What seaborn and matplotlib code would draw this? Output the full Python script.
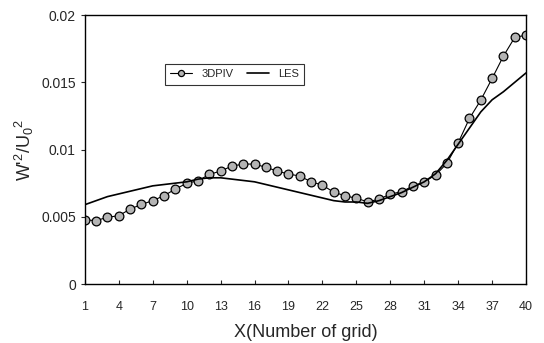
import matplotlib
matplotlib.use("Agg")
import matplotlib.pyplot as plt
import seaborn as sns
import pandas as pd
import numpy as np

grid = list(range(1, 41))

piv = [0.00476, 0.00472, 0.00496, 0.00508, 0.00557, 0.00592, 0.00620, 0.00657, 0.00706, 0.00749,
       0.00768, 0.00815, 0.00840, 0.00877, 0.00892, 0.00892, 0.00868, 0.00840, 0.00818, 0.00803,
       0.00760, 0.00736, 0.00682, 0.00657, 0.00637, 0.00612, 0.00630, 0.00669, 0.00686, 0.00729,
       0.00760, 0.00810, 0.00897, 0.01050, 0.01232, 0.01368, 0.01529, 0.01695, 0.01834, 0.01851]

les = [0.0059, 0.0062, 0.0065, 0.0067, 0.0069, 0.0071, 0.0073, 0.0074, 0.0075, 0.0076,
       0.0078, 0.0079, 0.0079, 0.0078, 0.0077, 0.0076, 0.0074, 0.0072, 0.0070, 0.0068,
       0.0066, 0.0064, 0.0062, 0.0061, 0.0061, 0.0060, 0.0062, 0.0065, 0.0068, 0.0072,
       0.0076, 0.0082, 0.0092, 0.0104, 0.0116, 0.0128, 0.0137, 0.0143, 0.0150, 0.0157]

xticks = list(range(1, 41, 3))
yticks = [0, 0.005, 0.01, 0.015, 0.02]
ytick_labels = ["0", "0.005", "0.01", "0.015", "0.02"]

sns.set_style("ticks")
plt.rcParams['font.family'] = ['Liberation Sans', 'DejaVu Sans']
plt.rcParams['mathtext.fontset'] = 'custom'
plt.rcParams['mathtext.rm'] = 'Liberation Sans'
plt.rcParams['mathtext.it'] = 'Liberation Sans'

df = pd.DataFrame({'grid': grid, '3DPIV': piv, 'LES': les})

fig = plt.figure(figsize=(5.44, 3.43), dpi=100)
ax = fig.add_axes([0.156, 0.172, 0.811, 0.784])

sns.lineplot(data=df, x='grid', y='3DPIV', ax=ax, color='black', lw=0.8,
             marker='o', markersize=6.3, markerfacecolor='#b4b4b4',
             markeredgecolor='black', markeredgewidth=0.9, label='3DPIV')
sns.lineplot(data=df, x='grid', y='LES', ax=ax, color='black', lw=1.2, label='LES')

ax.set_xlim(1, 40)
ax.set_ylim(0, 0.02)
ax.set_xticks(xticks)
ax.set_xticklabels([str(t) for t in xticks], fontsize=9)
ax.set_yticks(yticks)
ax.set_yticklabels(ytick_labels, fontsize=10)
ax.tick_params(axis='x', direction='in', length=3, pad=12)
ax.tick_params(axis='y', direction='out', length=3)
for s in ax.spines.values():
    s.set_visible(True)
    s.set_linewidth(1.0)
    s.set_color('black')

ax.set_xlabel('X(Number of grid)', fontsize=13, labelpad=8)
ax.set_ylabel(r"W$'^2$/U$_0$$^2$", fontsize=13, labelpad=4)

leg = ax.legend(loc='upper left', bbox_to_anchor=(0.168, 0.84), ncol=2, fontsize=8,
                frameon=True, fancybox=False, edgecolor='black', borderpad=0.5,
                columnspacing=1.2, handlelength=2.0, markerscale=0.7)
leg.get_frame().set_linewidth(0.8)

fig.savefig('out.png', dpi=100)
